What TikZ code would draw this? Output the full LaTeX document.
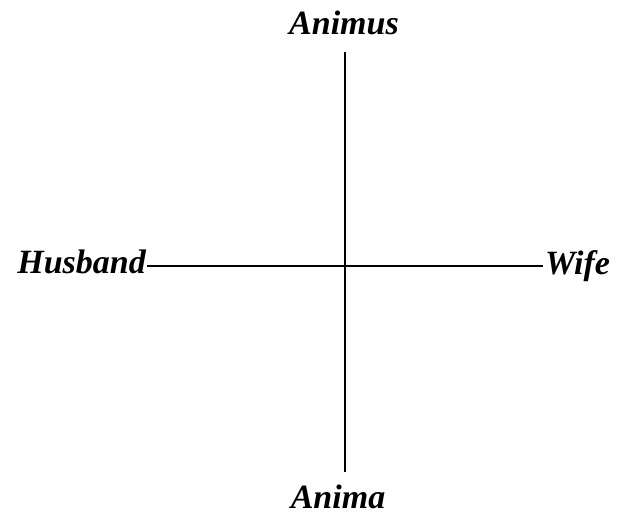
\documentclass[tikz,border=0pt]{standalone}
\usepackage{fontspec}
\setmainfont{Liberation Serif}
\begin{document}
\begin{tikzpicture}[x=1pt,y=1pt,
  lbl/.style={inner sep=0pt, font=\fontsize{34}{36}\selectfont\bfseries\itshape},
  axis/.style={line width=2.2pt, black}]
\useasboundingbox (0,0) rectangle (618,519);
\node[lbl, anchor=base east] (husband) at (146,245) {Husband};
\node[lbl, anchor=base west] (wife) at (545,244) {Wife};
\node[lbl, anchor=base] (animus) at (344,484) {Animus};
\node[lbl, anchor=base] (anima) at (338,10) {Anima};
\coordinate (top) at (345,467);
\coordinate (bottom) at (345,47);
\coordinate (left) at (147,253);
\coordinate (right) at (543,253);
\draw[axis] (top) -- (bottom);
\draw[axis] (left) -- (right);
\end{tikzpicture}
\end{document}
